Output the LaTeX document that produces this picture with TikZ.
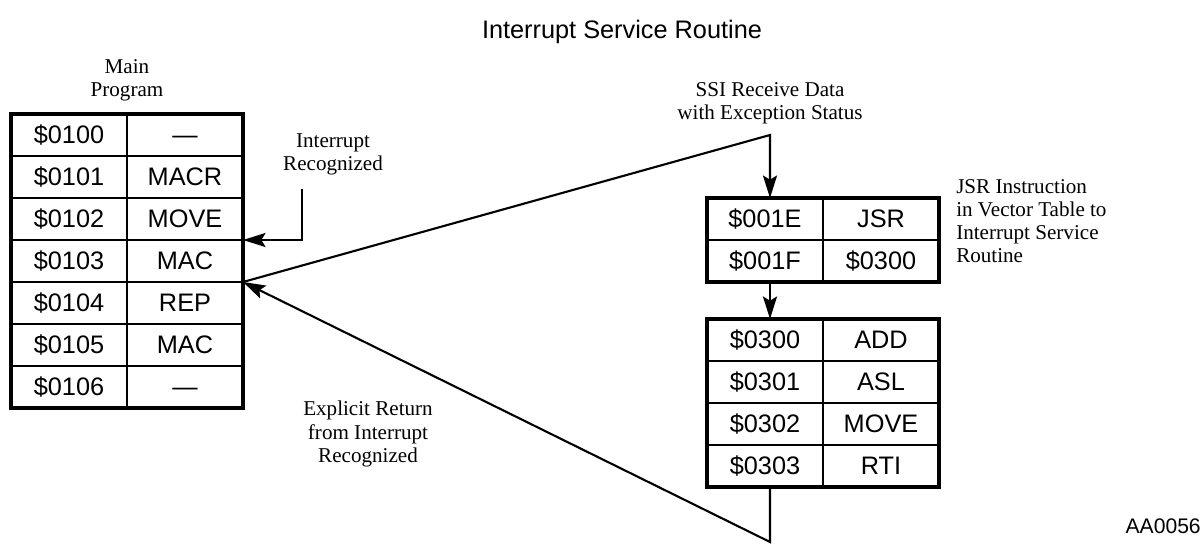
\documentclass[tikz,border=0pt]{standalone}
\usepackage{fontspec}
\setmainfont{Liberation Serif}
\setsansfont{Liberation Sans}
\usepackage{tikz}
\usetikzlibrary{arrows.meta, positioning, calc}
\tikzset{
  cell/.style={rectangle, draw, line width=1.7pt, minimum width=2.9cm,
    minimum height=1.05cm, inner sep=0pt, outer sep=0pt,
    text height=15pt, text depth=3pt,
    font=\sffamily\fontsize{18}{20}\selectfont},
  frame/.style={line width=2.3pt},
  arrow/.style={-{Stealth[length=16pt, width=10pt, inset=3pt]}, line width=1.5pt},
  line/.style={line width=1.5pt},
  lbl/.style={align=center, inner sep=0pt, font=\fontsize{15}{16.5}\selectfont}
}

\begin{document}
\begin{tikzpicture}[x=0.025cm, y=-0.025cm]
  \useasboundingbox (0,0) rectangle (1203,544);

  % Title
  \node[font=\sffamily\fontsize{18}{20}\selectfont] (title) at (622,32) {Interrupt Service Routine};

  % Main program
  \node[lbl] (mainlbl) at (127,80) {Main\\Program};
  \node[cell] (ma1) at (69,135) {\$0100};  \node[cell] (mb1) at (185,135) {---};
  \node[cell] (ma2) at (69,177) {\$0101};  \node[cell] (mb2) at (185,177) {MACR};
  \node[cell] (ma3) at (69,219) {\$0102};  \node[cell] (mb3) at (185,219) {MOVE};
  \node[cell] (ma4) at (69,261) {\$0103};  \node[cell] (mb4) at (185,261) {MAC};
  \node[cell] (ma5) at (69,303) {\$0104};  \node[cell] (mb5) at (185,303) {REP};
  \node[cell] (ma6) at (69,345) {\$0105};  \node[cell] (mb6) at (185,345) {MAC};
  \node[cell] (ma7) at (69,387) {\$0106};  \node[cell] (mb7) at (185,387) {---};
  \draw[frame] (ma1.north west) rectangle (mb7.south east);

  % Vector table (JSR)
  \node[cell] (ja1) at (765,219) {\$001E};  \node[cell] (jb1) at (881,219) {JSR};
  \node[cell] (ja2) at (765,261) {\$001F};  \node[cell] (jb2) at (881,261) {\$0300};
  \draw[frame] (ja1.north west) rectangle (jb2.south east);
  \node[lbl, align=left, anchor=west] (jsrlbl) at (956,221) {JSR Instruction\\in Vector Table to\\Interrupt Service\\Routine};

  % Interrupt service routine
  \node[cell] (ia1) at (765,340) {\$0300};  \node[cell] (ib1) at (881,340) {ADD};
  \node[cell] (ia2) at (765,382) {\$0301};  \node[cell] (ib2) at (881,382) {ASL};
  \node[cell] (ia3) at (765,424) {\$0302};  \node[cell] (ib3) at (881,424) {MOVE};
  \node[cell] (ia4) at (765,466) {\$0303};  \node[cell] (ib4) at (881,466) {RTI};
  \draw[frame] (ia1.north west) rectangle (ib4.south east);

  % Interrupt recognized
  \node[lbl] (irqlbl) at (333,154) {Interrupt\\Recognized};
  \coordinate (irq) at (302,189);
  \draw[arrow] (irq) |- (mb3.south east);

  % SSI exception
  \node[lbl] (ssilbl) at (770,103) {SSI Receive Data\\with Exception Status};
  \coordinate (ssi) at (770,135);
  \draw[arrow] (mb4.south east) -- (ssi) -- (ssi |- ja1.north);
  \draw[arrow] (ja2.south -| ssi) -- (ia1.north -| ssi);

  % Return
  \node[lbl] (retlbl) at (368,434) {Explicit Return\\from Interrupt\\Recognized};
  \coordinate (ret) at (770,542);
  \draw[arrow] (ia4.south -| ret) -- (ret) -- (mb4.south east);

  \node[font=\sffamily\fontsize{15}{17}\selectfont, anchor=east, inner sep=0pt] (tag) at (1201,526) {AA0056};
\end{tikzpicture}
\end{document}
